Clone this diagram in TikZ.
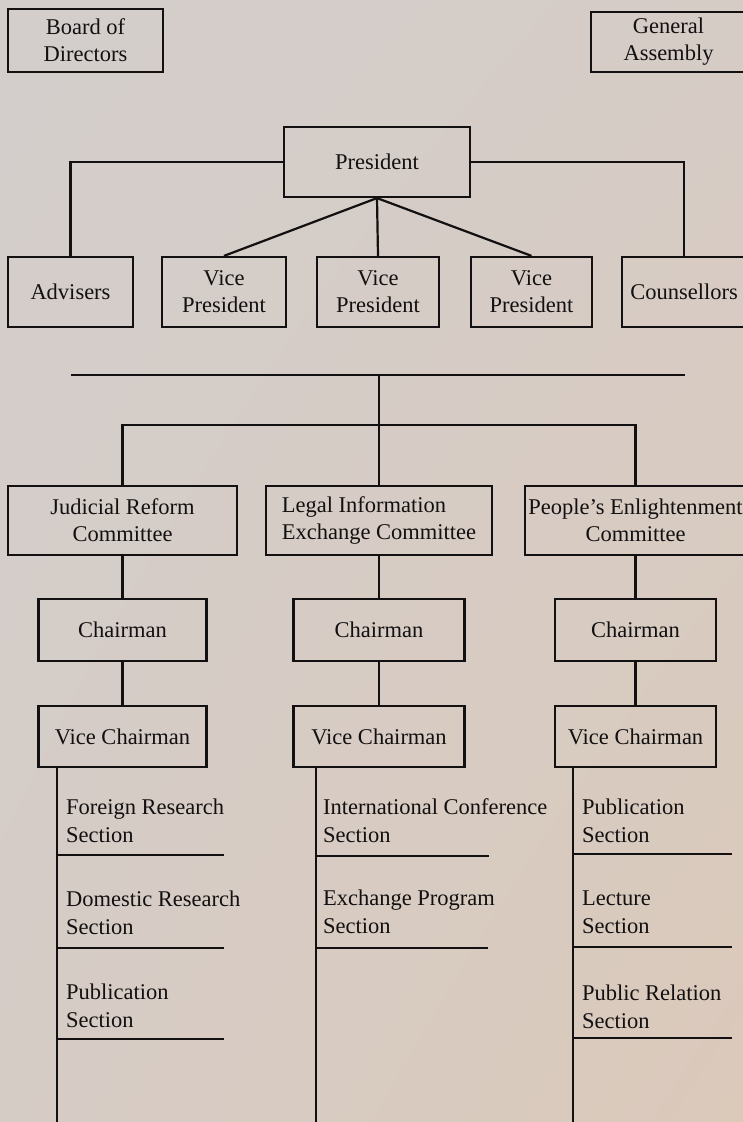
\documentclass[tikz,border=0pt]{standalone}
\usepackage{fontspec}
\setmainfont{Liberation Serif}
\usetikzlibrary{positioning,shadings}

\definecolor{paperA}{RGB}{211,206,204}
\definecolor{paperB}{RGB}{214,204,198}
\definecolor{paperC}{RGB}{219,201,186}
\definecolor{ink}{RGB}{18,16,16}

\begin{document}
\begin{tikzpicture}[x=1pt, y=1pt, ink, line width=2.2pt,
    box/.style={draw, align=center, inner sep=0pt, font=\fontsize{22.5}{27}\selectfont},
    secname/.style={anchor=west, align=left, inner sep=0pt, font=\fontsize{22.5}{28}\selectfont}]
  \useasboundingbox (0,0) rectangle (743,1122);
  \clip (0,0) rectangle (743,1122);
  \shade[upper left=paperA, upper right=paperB, lower left=paperB, lower right=paperC]
    (0,0) rectangle (743,1122);

  % top of the chart
  \node (board) [box, minimum width=155, minimum height=63] at (85.5,1081.5) {Board of\\Directors};
  \node (assembly) [box, minimum width=155, minimum height=60] at (668.5,1080) {General\\Assembly};

  \node (pres) [box, minimum width=186, minimum height=70] at (377,960) {President};

  \node (adv)   [box, minimum width=125, minimum height=70] at (70.5,830) {Advisers};
  \node (vp1)   [box, minimum width=124, minimum height=70] at (224,830) {Vice\\President};
  \node (vp2)   [box, minimum width=122, minimum height=70] at (378,830) {Vice\\President};
  \node (vp3)   [box, minimum width=121, minimum height=70] at (531.5,830) {Vice\\President};
  \node (couns) [box, minimum width=124, minimum height=70] at (684,830) {Counsellors};

  \draw (pres.west) -| (adv.north);
  \draw (pres.east) -| (couns.north);
  \path (pres.south) edge (vp1.north);
  \path (pres.south) edge (vp2.north);
  \path (pres.south) edge (vp3.north);

  % committees
  \coordinate (busL) at (71,747);
  \coordinate (busR) at (685,747);
  \coordinate (busM) at (379,747);
  \coordinate (hubM) at (379,697);

  \node (jr) [box, minimum width=229, minimum height=69] at (122.5,601.5) {Judicial Reform\\Committee};
  \node (li) [box, minimum width=226, minimum height=69] at (379,601.5) {\begin{tabular}{@{}l@{}}Legal Information\\Exchange Committee\end{tabular}};
  \node (pe) [box, minimum width=221, minimum height=69] at (635.5,601.5) {People's Enlightenment\\Committee};

  \draw (busL) -- (busR);
  \draw (busM) -- (hubM);
  \draw (jr.north) |- (hubM) -| (pe.north);
  \draw (li.north) -- (li.north |- hubM);

  \node (ch1) [box, minimum width=168, minimum height=62, below=42pt of jr] {Chairman};
  \node (ch2) [box, minimum width=171, minimum height=62, below=42pt of li] {Chairman};
  \node (ch3) [box, minimum width=161, minimum height=62, below=42pt of pe] {Chairman};
  \node (vc1) [box, minimum width=168, minimum height=61, below=43pt of ch1] {Vice Chairman};
  \node (vc2) [box, minimum width=171, minimum height=61, below=43pt of ch2] {Vice Chairman};
  \node (vc3) [box, minimum width=161, minimum height=61, below=43pt of ch3] {Vice Chairman};

  \path (jr) edge (ch1);
  \path (li) edge (ch2);
  \path (pe) edge (ch3);
  \path (ch1) edge (vc1);
  \path (ch2) edge (vc2);
  \path (ch3) edge (vc3);

  % sections
  \coordinate (foot1) at (57,0);
  \coordinate (foot2) at (316,0);
  \coordinate (foot3) at (573,0);
  \draw (vc1.south -| foot1) -- (foot1);
  \draw (vc2.south -| foot2) -- (foot2);
  \draw (vc3.south -| foot3) -- (foot3);

  \node (jr-sec1) [secname] at (65,301) {Foreign Research\\Section};
  \node (jr-sec2) [secname] at (65,209) {Domestic Research\\Section};
  \node (jr-sec3) [secname] at (65,116) {Publication\\Section};
  \coordinate (jr-rule1) at (224,267);
  \coordinate (jr-rule2) at (224,174);
  \coordinate (jr-rule3) at (224,83);
  \draw (jr-rule1 -| foot1) -- (jr-rule1);
  \draw (jr-rule2 -| foot1) -- (jr-rule2);
  \draw (jr-rule3 -| foot1) -- (jr-rule3);

  \node (li-sec1) [secname] at (322,301) {International Conference\\Section};
  \node (li-sec2) [secname] at (322,210) {Exchange Program\\Section};
  \coordinate (li-rule1) at (489,266);
  \coordinate (li-rule2) at (488,174);
  \draw (li-rule1 -| foot2) -- (li-rule1);
  \draw (li-rule2 -| foot2) -- (li-rule2);

  \node (pe-sec1) [secname] at (581,301) {Publication\\Section};
  \node (pe-sec2) [secname] at (581,210) {Lecture\\Section};
  \node (pe-sec3) [secname] at (581,115) {Public Relation\\Section};
  \coordinate (pe-rule1) at (732,268);
  \coordinate (pe-rule2) at (732,175);
  \coordinate (pe-rule3) at (732,84);
  \draw (pe-rule1 -| foot3) -- (pe-rule1);
  \draw (pe-rule2 -| foot3) -- (pe-rule2);
  \draw (pe-rule3 -| foot3) -- (pe-rule3);
\end{tikzpicture}
\end{document}
